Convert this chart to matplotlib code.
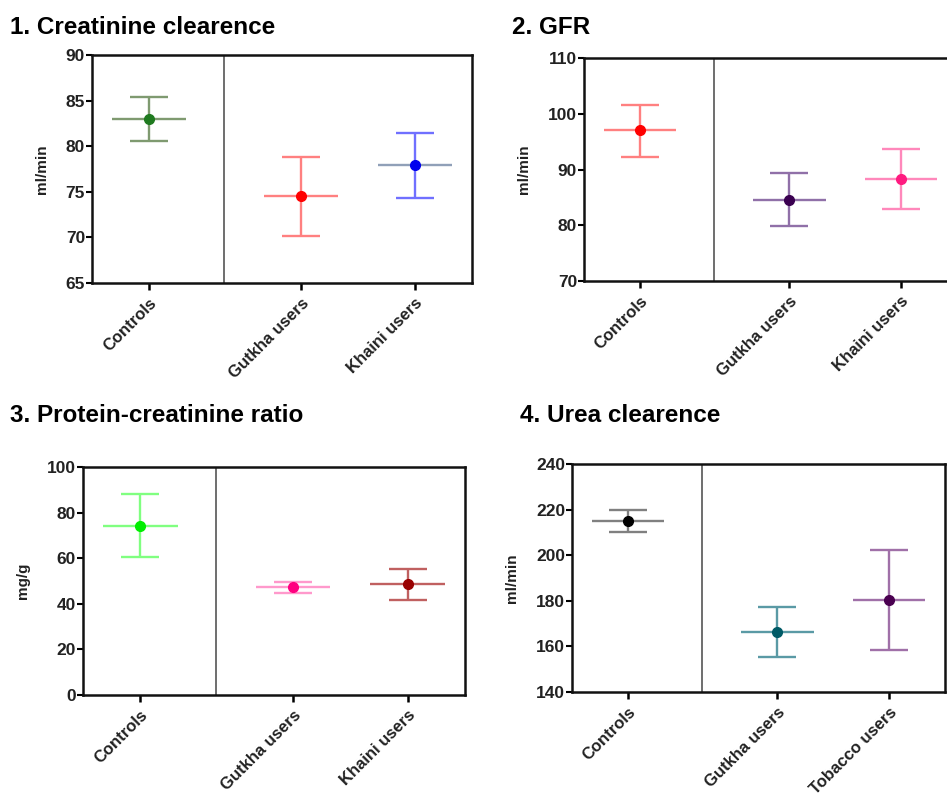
import matplotlib
matplotlib.use("Agg")
import matplotlib.pyplot as plt

plt.rcParams['font.family'] = ['Liberation Sans', 'DejaVu Sans']

# panel data: mean, lower and upper end of the error bar
titles = ["1. Creatinine clearence", "2. GFR",
          "3. Protein-creatinine ratio", "4. Urea clearence"]
ylabels = ["ml/min", "ml/min", "mg/g", "ml/min"]
groups = [
    ["Controls", "Gutkha users", "Khaini users"],
    ["Controls", "Gutkha users", "Khaini users"],
    ["Controls", "Gutkha users", "Khaini users"],
    ["Controls", "Gutkha users", "Tobacco users"],
]
means = [
    [83.0, 74.5, 77.9],
    [97.0, 84.5, 88.3],
    [74.1, 47.2, 48.7],
    [215.0, 166.4, 180.3],
]
lower = [
    [80.6, 70.1, 74.3],
    [92.3, 79.9, 82.9],
    [60.4, 44.7, 41.7],
    [210.0, 155.4, 158.3],
]
upper = [
    [85.4, 78.8, 81.4],
    [101.6, 89.3, 93.7],
    [88.0, 49.6, 55.4],
    [219.8, 177.4, 202.2],
]
yticks = [
    [65, 70, 75, 80, 85, 90],
    [70, 80, 90, 100, 110],
    [0, 20, 40, 60, 80, 100],
    [140, 160, 180, 200, 220, 240],
]

marker_colors = [
    ['#1f7a1f', '#ff0000', '#0000ee'],
    ['#ff0000', '#3a0050', '#ff1a80'],
    ['#00ee00', '#ff0080', '#990000'],
    ['#000000', '#005a66', '#4a0050'],
]
bar_colors = [
    ['#7f9a70', '#ff8080', '#7070ff'],
    ['#ff8080', '#9070a8', '#ff88bb'],
    ['#80ff80', '#ff99cc', '#c06060'],
    ['#808080', '#5a9aa5', '#a070a8'],
]
mean_colors = [
    ['#7f9a70', '#ff8080', '#90a0b8'],
    ['#ff8080', '#9070a8', '#ff88bb'],
    ['#80ff80', '#ff99cc', '#c06060'],
    ['#808080', '#5a9aa5', '#a070a8'],
]

W, H = 947, 793
fig = plt.figure(figsize=(W / 100, H / 100), dpi=100)

# axes boxes in pixels: left, right, top, bottom
boxes = [(92, 472, 55, 283), (584, 957, 58, 281),
         (83, 465, 467, 695), (572, 945, 464, 692)]
title_pos = [(10, 34), (512, 34), (10, 422), (520, 422)]

xpos = [1.0, 2.333, 3.333]
divider = 1.66

for i in range(4):
    l, r, t, b = boxes[i]
    ax = fig.add_axes([l / W, 1 - b / H, (r - l) / W, (b - t) / H])
    for j in range(3):
        x = xpos[j]
        ax.hlines(means[i][j], x - 0.325, x + 0.325, color=mean_colors[i][j], lw=1.7, zorder=2)
        ax.vlines(x, lower[i][j], upper[i][j], color=bar_colors[i][j], lw=1.7, zorder=2)
        ax.hlines([lower[i][j], upper[i][j]], x - 0.167, x + 0.167,
                  color=bar_colors[i][j], lw=1.7, zorder=2)
        ax.plot(x, means[i][j], 'o', color=marker_colors[i][j], ms=7, zorder=3)
    ax.axvline(divider, color='#555555', lw=1.2, zorder=1)

    ax.set_xlim(0.5, 3.833)
    ax.set_ylim(yticks[i][0], yticks[i][-1])
    ax.set_yticks(yticks[i])
    ax.set_xticks(xpos)
    ax.set_xticklabels(groups[i], rotation=45, ha='right', rotation_mode='anchor',
                       fontsize=12, fontweight='bold', color='#222222')
    ax.tick_params(axis='y', labelsize=12.5, width=1.5, length=4, pad=1, labelcolor='#222222')
    ax.tick_params(axis='x', width=1.8, length=5, pad=4)
    for lab in ax.get_yticklabels():
        lab.set_fontweight('bold')
    ax.set_ylabel(ylabels[i], fontsize=11, fontweight='bold', labelpad=12, color='#222222')
    for s in ax.spines.values():
        s.set_linewidth(1.8)
        s.set_color('#111111')

    tx, ty = title_pos[i]
    fig.text(tx / W, 1 - ty / H, titles[i], fontsize=17.5, fontweight='bold',
             ha='left', va='baseline')

fig.savefig("out.png", dpi=100)
plt.close(fig)
